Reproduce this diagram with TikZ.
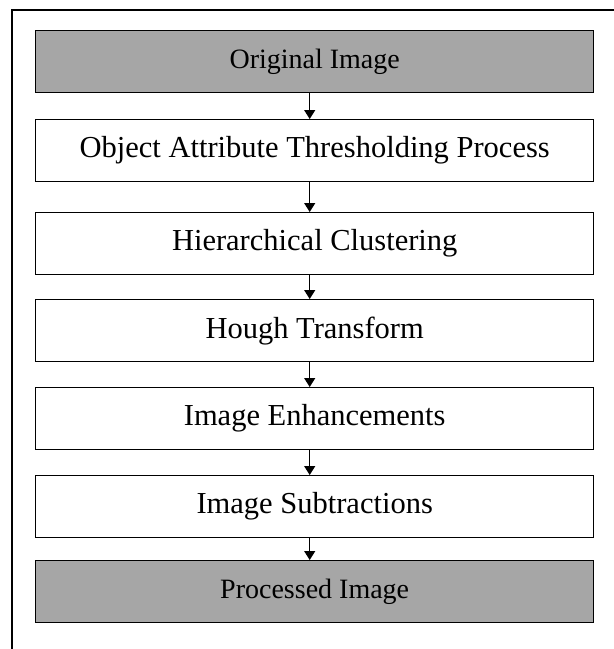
\documentclass[tikz,border=0pt]{standalone}
\usepackage{fontspec}
\setmainfont{Liberation Serif}
\usetikzlibrary{arrows.meta}
\begin{document}
\begin{tikzpicture}[x=1pt,y=-1pt,
  stagebox/.style={draw=black, line width=1.4pt, minimum width=558pt, minimum height=62pt, inner sep=0pt, font=\fontsize{30.5}{33}\selectfont, anchor=north west},
  graybox/.style={stagebox, fill=black!35, font=\fontsize{28}{31}\selectfont},
  flow/.style={line width=1.3pt, -{Triangle[length=9pt,width=11pt]}}]
\useasboundingbox (0,0) rectangle (614,649);
\draw[line width=2pt] (12,649) -- (12,10) -- (614,10);
\node[graybox]  (orig) at (35,30)  {Original Image};
\node[stagebox] (oat)  at (35,119) {Object Attribute Thresholding Process};
\node[stagebox] (hc)   at (35,212) {Hierarchical Clustering};
\node[stagebox] (ht)   at (35,299) {Hough Transform};
\node[stagebox] (ie)   at (35,387) {Image Enhancements};
\node[stagebox] (is)   at (35,475) {Image Subtractions};
\node[graybox]  (proc) at (35,560) {Processed Image};
\foreach \a/\b in {orig/oat,oat/hc,hc/ht,ht/ie,ie/is,is/proc}
  \draw[flow] ([xshift=-5pt]\a.south) -- ([xshift=-5pt]\b.north);
\end{tikzpicture}
\end{document}
